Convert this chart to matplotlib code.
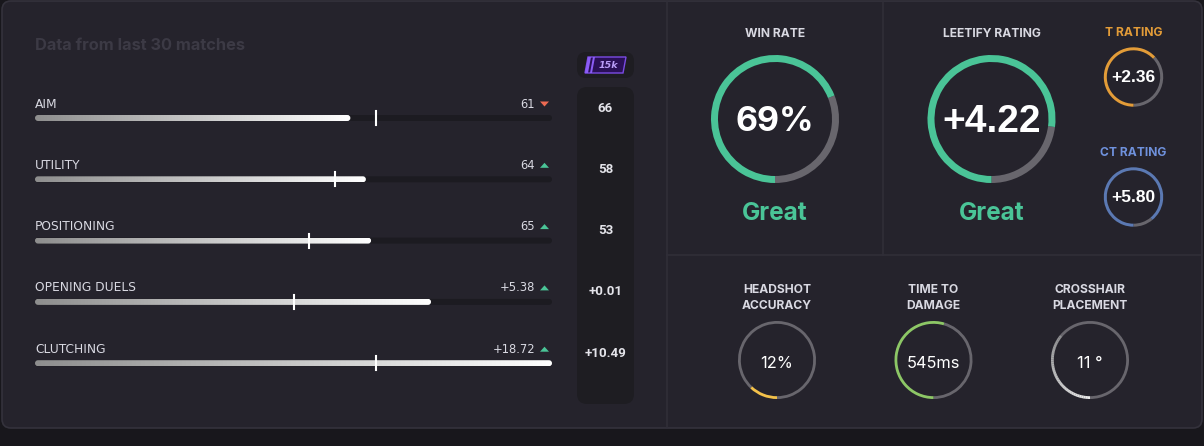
import matplotlib.pyplot as plt
from matplotlib.colors import LinearSegmentedColormap
from matplotlib.patches import FancyBboxPatch, Wedge, Polygon
import numpy as np

W, H = 1204, 446

# skill bars (left panel)
skills = ["AIM", "UTILITY", "POSITIONING", "OPENING DUELS", "CLUTCHING"]
skill_labels = ["61", "64", "65", "+5.38", "+18.72"]
skill_pct = [61, 64, 65, 76.6, 100]
trend = ["down", "up", "up", "up", "up"]
bench_labels = ["66", "58", "53", "+0.01", "+10.49"]
bench_pct = [66, 58, 53, 50, 66]

# big gauges
main_titles = ["WIN RATE", "LEETIFY RATING"]
main_values = ["69%", "+4.22"]
main_frac = [0.69, 0.77]
main_grade = ["Great", "Great"]

# side ratings
side_titles = ["T RATING", "CT RATING"]
side_values = ["+2.36", "+5.80"]
side_frac = [0.63, 0.89]

# aim stats
aim_titles = ["HEADSHOT\nACCURACY", "TIME TO\nDAMAGE", "CROSSHAIR\nPLACEMENT"]
aim_values = ["12%", "545ms", "11 °"]
aim_frac = [0.12, 0.545, 0.36]

BG = "#18171c"
CARD = "#25232c"
LINE = "#302e38"
DARK = "#1e1d22"
GREEN = "#4ac497"
GREY = "#68666d"
TXT = "#d9d9e2"

fig = plt.figure(figsize=(W / 100, H / 100), dpi=100)
fig.patch.set_facecolor(BG)
ax = fig.add_axes([0, 0, 1, 1])
ax.set_facecolor(BG)
ax.axis("off")


def rbox(x0, y0, x1, y1, r, **kw):
    p = FancyBboxPatch((x0 + r, y0 + r), x1 - x0 - 2 * r, y1 - y0 - 2 * r,
                       boxstyle=f"round,pad={r}", **kw)
    ax.add_patch(p)
    return p


def ring(cx, cy, r, w, frac, col, base=GREY):
    # y axis is inverted: angle 90 is bottom, growing angles go clockwise
    a = 90 + 360 * frac
    ax.add_patch(Wedge((cx, cy), r, a, 450, width=w, color=base, lw=0))
    ax.add_patch(Wedge((cx, cy), r, 90, a, width=w, color=col, lw=0))


# card
rbox(2, 1, 1202, 428, 9, facecolor=CARD, edgecolor="#34323c", lw=1.2)
ax.plot([666.5, 666.5], [1.5, 427.5], color=LINE, lw=1.2)
ax.plot([883, 883], [1.5, 255], color=LINE, lw=1.2)
ax.plot([666.5, 1201.5], [255, 255], color=LINE, lw=1.2)

ax.text(35, 45, "Data from last 30 matches", color="#3c3a45", fontsize=11.8,
        family="Inter", weight="bold", va="center", ha="left")

# bars
x0, x1 = 35, 552
grad = np.linspace(0, 1, 256).reshape(1, -1)
cmap = LinearSegmentedColormap.from_list("g", ["#8e8e8e", "#ffffff"])
for i, name in enumerate(skills):
    ly = 104 + i * 61.3
    by = ly + 14
    ax.text(x0, ly, name, color=TXT, fontsize=8.8, family="DejaVu Sans",
            va="center", ha="left")
    ax.text(535, ly, skill_labels[i], color=TXT, fontsize=8.3,
            family="DejaVu Sans", va="center", ha="right")
    if trend[i] == "down":
        tri = [(540, ly - 2.5), (549, ly - 2.5), (544.5, ly + 2.5)]
        tc = "#ec6a52"
    else:
        tri = [(540, ly + 2.5), (549, ly + 2.5), (544.5, ly - 2.5)]
        tc = GREEN
    ax.add_patch(Polygon(tri, closed=True, color=tc, lw=0))
    rbox(x0, by - 3, x1, by + 3, 3, facecolor="#1c1b21", edgecolor="none")
    fx = x0 + (x1 - x0) * skill_pct[i] / 100
    clip = rbox(x0, by - 3, fx, by + 3, 3, facecolor="none", edgecolor="none")
    im = ax.imshow(grad, cmap=cmap, extent=(x0, fx, by + 3, by - 3),
                   interpolation="bicubic", aspect="auto", zorder=2)
    im.set_clip_path(clip)
    mx = x0 + (x1 - x0) * bench_pct[i] / 100
    ax.plot([mx, mx], [by - 7, by + 7], color="white", lw=1.5, zorder=3)

# benchmark column
rbox(577, 52, 634, 78, 9, facecolor=DARK, edgecolor="none")
ax.add_patch(Polygon([(588, 57), (626, 57), (623, 73), (585, 73)], closed=True,
                     facecolor="#2a1057", edgecolor="#7b4be4", lw=1))
ax.add_patch(Polygon([(588, 57), (591, 57), (588, 73), (585, 73)], closed=True,
                     color="#8b5cf6", lw=0))
ax.add_patch(Polygon([(593, 57), (595, 57), (592, 73), (590, 73)], closed=True,
                     color="#8b5cf6", lw=0))
ax.text(608, 65, "15k", color="#b99df7", fontsize=6.8, family="DejaVu Sans",
        weight="bold", style="italic", ha="center", va="center")
rbox(577, 87, 634, 404, 10, facecolor=DARK, edgecolor="none")
for i, lab in enumerate(bench_labels):
    ax.text(605.5, 108 + i * 61.3, lab, color="#e4e4ea", fontsize=9.6,
            family="Roboto", weight="bold", ha="center", va="center")

# big gauges
gauge_cx = [775, 991.5]
value_fonts = [("Inter", "bold", 24.5), ("Liberation Sans", "bold", 28)]
for i in range(2):
    cx = gauge_cx[i]
    fam, wt, fs = value_fonts[i]
    ax.text(cx, 34, main_titles[i], color=TXT, fontsize=8.7,
            family="Inter", weight="bold", ha="center", va="center")
    ring(cx, 119, 64, 7, main_frac[i], GREEN)
    ax.text(cx, 122, main_values[i], color="white", fontsize=fs, family=fam,
            weight=wt, ha="center", va="center")
    ax.text(cx, 213, main_grade[i], color=GREEN, fontsize=17.5, family="Inter",
            weight="bold", ha="center", va="center")

# side ratings
side_cols = ["#e39c38", "#5b79b3"]
title_cols = ["#e39c38", "#6f91dc"]
side_cy = [77, 197]
for i in range(2):
    cy = side_cy[i]
    ax.text(1133.5, cy - 43.5, side_titles[i], color=title_cols[i], fontsize=8.7,
            family="Inter", weight="bold", ha="center", va="center")
    ring(1133.5, cy, 29.7, 3, side_frac[i], side_cols[i])
    ax.text(1133.5, cy + 0.5, side_values[i], color="white", fontsize=12.5,
            family="Liberation Sans", weight="bold", ha="center", va="center")

# aim stats
aim_cx = [777, 933.5, 1090]
aim_cols = ["#f3c14a", "#8dc766", None]
for i in range(3):
    cx = aim_cx[i]
    ax.text(cx, 298, aim_titles[i], color=TXT, fontsize=8.7, family="Inter",
            weight="bold", ha="center", va="center", linespacing=1.5)
    r, w = 39, 2.8
    if aim_cols[i] is not None:
        ring(cx, 360, r, w, aim_frac[i], aim_cols[i])
    else:
        a = 90 + 360 * aim_frac[i]
        ax.add_patch(Wedge((cx, 360), r, a, 450, width=w, color=GREY, lw=0))
        n = 40
        edges = np.linspace(90, a, n + 1)
        c0 = np.array([0.93, 0.93, 0.93])
        c1 = np.array([0.55, 0.55, 0.56])
        for k in range(n):
            t = k / (n - 1)
            ax.add_patch(Wedge((cx, 360), r, edges[k], edges[k + 1] + 0.3,
                               width=w, color=c0 * (1 - t) + c1 * t, lw=0))
    ax.text(cx, 363, aim_values[i], color="white", fontsize=11.8, family="Inter",
            ha="center", va="center")

ax.set_xlim(0, W)
ax.set_ylim(H, 0)
ax.set_aspect("auto")
fig.savefig("out.png", dpi=100, facecolor=BG)
